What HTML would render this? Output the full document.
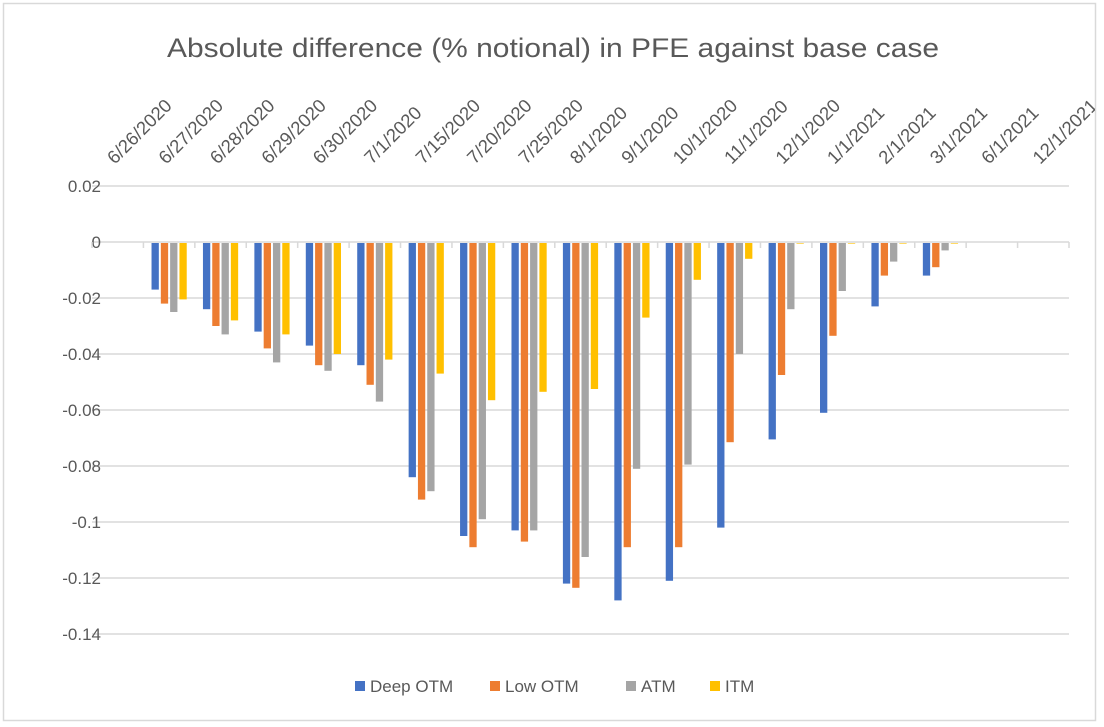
<!DOCTYPE html>
<html><head><meta charset="utf-8"><style>
html,body{margin:0;padding:0;background:#fff;}
svg{display:block;font-family:"Liberation Sans",Calibri,sans-serif;}
</style></head><body>
<svg id="chart" width="1104" height="727" viewBox="0 0 1104 727">
<defs><clipPath id="cc"><rect x="4" y="4" width="1091" height="716"/></clipPath></defs>
<rect x="0" y="0" width="1104" height="727" fill="#fff"/>
<rect x="3.5" y="3.5" width="1092" height="717" fill="none" stroke="#d9d9d9" stroke-width="1.5"/>
<text x="553" y="57" text-anchor="middle" font-size="27" textLength="772" lengthAdjust="spacingAndGlyphs" fill="#595959">Absolute difference (% notional) in PFE against base case</text>
<g id="grid"></g>
<g id="bars"></g>
<g id="axis" clip-path="url(#cc)"></g>
<g id="legend"></g>
</svg>
<script>
const categories=["6/26/2020","6/27/2020","6/28/2020","6/29/2020","6/30/2020","7/1/2020","7/15/2020","7/20/2020","7/25/2020","8/1/2020","9/1/2020","10/1/2020","11/1/2020","12/1/2020","1/1/2021","2/1/2021","3/1/2021","6/1/2021","12/1/2021"];
const deepOTM=[null,-0.017,-0.024,-0.032,-0.037,-0.044,-0.084,-0.105,-0.103,-0.122,-0.128,-0.121,-0.102,-0.0705,-0.061,-0.023,-0.012,null,null];
const lowOTM=[null,-0.022,-0.030,-0.038,-0.044,-0.051,-0.092,-0.109,-0.107,-0.1235,-0.109,-0.109,-0.0715,-0.0475,-0.0335,-0.012,-0.009,null,null];
const atm=[null,-0.025,-0.033,-0.043,-0.046,-0.057,-0.089,-0.099,-0.103,-0.1125,-0.081,-0.0795,-0.040,-0.024,-0.0175,-0.007,-0.003,null,null];
const itm=[null,-0.0205,-0.028,-0.033,-0.040,-0.042,-0.047,-0.0565,-0.0535,-0.0525,-0.027,-0.0135,-0.006,-0.0005,-0.0003,0,0,null,null];
const yTicks=[0.02,0,-0.02,-0.04,-0.06,-0.08,-0.1,-0.12,-0.14];
const yTickLabels=["0.02","0","-0.02","-0.04","-0.06","-0.08","-0.1","-0.12","-0.14"];
const seriesNames=["Deep OTM","Low OTM","ATM","ITM"];
const seriesColors=["#4472c4","#ed7d31","#a5a5a5","#ffc000"];
const series=[deepOTM,lowOTM,atm,itm];

const NS="http://www.w3.org/2000/svg";
const X0=92,X1=1069,catW=(X1-X0)/categories.length;
function y(v){return 242-(v/0.02)*56;}
function cx(i){return X0+catW*(i+0.5);}
function mk(tag,attrs,parent){const e=document.createElementNS(NS,tag);for(const k in attrs)e.setAttribute(k,attrs[k]);parent.appendChild(e);return e;}
const grid=document.getElementById('grid'),bars=document.getElementById('bars'),axis=document.getElementById('axis'),legend=document.getElementById('legend');

yTicks.forEach((t,i)=>{
  const l=mk('line',{x1:X0,x2:X1,y1:y(t),y2:y(t),stroke:'#d9d9d9','stroke-width':1.5},grid);
  
  
  const tx=mk('text',{x:101,y:y(t)+6,'text-anchor':'end','font-size':17,fill:'#595959'},grid);
  tx.textContent=yTickLabels[i];
  
  
});
for(let i=0;i<=categories.length;i++){
  const x=X0+catW*i;
  const tk=mk('line',{x1:x,x2:x,y1:242,y2:248,stroke:'#d9d9d9','stroke-width':1.5},grid);
  
  
}
const slot=9.3,bw=7.3;
categories.forEach((c,i)=>{
  series.forEach((s,j)=>{
    const v=s[i];
    if(v===null||v===undefined)return;
    const x=cx(i)-2*slot+j*slot+(slot-bw)/2;
    const y0=y(0)+1,y1=Math.max(y(v),y0);
    const r=mk('rect',{x:x,y:y0,width:bw,height:Math.max(y1-y0,0.6),fill:seriesColors[j]},bars);
    
    
  });
  const lx=cx(i)-3,ly=165;
  const t=mk('text',{x:lx,y:ly,'font-size':18.5,fill:'#595959',transform:'rotate(-45 '+lx+' '+ly+')'},axis);
  t.textContent=c;
  
  
});
const lgx=[355,490,626,710];
seriesNames.forEach((n,j)=>{
  const g=mk('g',{},legend);
  
  
  mk('rect',{x:lgx[j],y:681,width:10,height:10,fill:seriesColors[j]},g);
  const t=mk('text',{x:lgx[j]+15,y:692,'font-size':17,fill:'#595959'},g);
  t.textContent=n;
});
</script>
</body></html>
